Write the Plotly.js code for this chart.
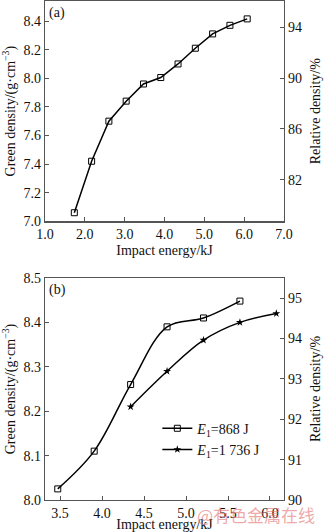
<!DOCTYPE html>
<html>
<head>
<meta charset="utf-8">
<script src="https://cdn.plot.ly/plotly-3.0.1.min.js"></script>
<style>html,body{margin:0;padding:0;background:#fff;}#chart{width:325px;height:532px;}</style>
</head>
<body>
<div id="chart"></div>
<script>
// Panel (a)
const energyA = [1.736, 2.170, 2.604, 3.038, 3.472, 3.906, 4.340, 4.774, 5.208, 5.642, 6.076];
const densityA = [7.06, 7.42, 7.70, 7.84, 7.96, 8.005, 8.10, 8.21, 8.31, 8.37, 8.415];
// Panel (b)
const energyB1 = [3.472, 3.906, 4.340, 4.774, 5.208, 5.642];
const densityB1 = [8.025, 8.11, 8.26, 8.39, 8.41, 8.448];
const energyB2 = [4.340, 4.774, 5.208, 5.642, 6.076];
const densityB2 = [8.21, 8.29, 8.36, 8.40, 8.42];
const seriesNames = ['<i>E</i><sub>1</sub>=868 J', '<i>E</i><sub>1</sub>=1 736 J'];
const ticksXA = [1, 2, 3, 4, 5, 6, 7];
const ticksYA = [7.0, 7.2, 7.4, 7.6, 7.8, 8.0, 8.2, 8.4];
const ticksRA = [82, 86, 90, 94];
const ticksXB = [3.5, 4.0, 4.5, 5.0, 5.5, 6.0];
const ticksYB = [8.0, 8.1, 8.2, 8.3, 8.4, 8.5];
const ticksRB = [90, 91, 92, 93, 94, 95];

const FONT = 'Liberation Serif, Times New Roman, serif';
const LC = '#555';
function ax(extra) {
  return Object.assign({
    showline: true, linecolor: LC, linewidth: 1.2,
    ticks: 'inside', ticklen: 4, tickcolor: LC, tickwidth: 1,
    showgrid: false, zeroline: false,
    tickfont: {family: FONT, size: 14, color: '#111'},
  }, extra);
}
const traces = [
  {x: energyA, y: densityA, xaxis: 'x', yaxis: 'y', mode: 'lines+markers', showlegend: false,
   line: {color: '#000', width: 1.5},
   marker: {symbol: 'square-open', size: 6, color: '#000', line: {width: 1}}},
  // empty traces so the right-hand (relative density) axes are drawn
  {x: [null], y: [null], xaxis: 'x', yaxis: 'y2', mode: 'markers', showlegend: false, hoverinfo: 'skip'},
  {x: energyB1, y: densityB1, xaxis: 'x2', yaxis: 'y3', mode: 'lines+markers', name: seriesNames[0],
   line: {color: '#000', width: 1.5, shape: 'spline', smoothing: 1},
   marker: {symbol: 'square-open', size: 6, color: '#000', line: {width: 1}}},
  {x: energyB2, y: densityB2, xaxis: 'x2', yaxis: 'y3', mode: 'lines+markers', name: seriesNames[1],
   line: {color: '#000', width: 1.5, shape: 'spline', smoothing: 1},
   marker: {symbol: 'star', size: 6, color: '#000'}},
  {x: [null], y: [null], xaxis: 'x2', yaxis: 'y4', mode: 'markers', showlegend: false, hoverinfo: 'skip'},
];
const layout = {
  width: 325, height: 532,
  margin: {l: 45, r: 41, t: 1, b: 32},
  paper_bgcolor: '#fff', plot_bgcolor: '#fff',
  font: {family: FONT, size: 14, color: '#111'},
  xaxis: ax({domain: [0, 1], range: [1, 7], tickvals: ticksXA, tickformat: '.1f', mirror: true, anchor: 'y',
    title: {text: 'Impact energy/kJ', font: {family: FONT, size: 14}, standoff: 3}}),
  yaxis: ax({domain: [0.5585, 1], range: [7.0, 8.54], tickvals: ticksYA, tickformat: '.1f', anchor: 'x',
    title: {text: 'Green density/(g·cm<sup>−3</sup>)', font: {family: FONT, size: 14}, standoff: 4}}),
  yaxis2: ax({overlaying: 'y', side: 'right', anchor: 'x', range: [78.74, 96.06], tickvals: ticksRA,
    title: {text: 'Relative density/%', font: {family: FONT, size: 14}, standoff: 9}}),
  xaxis2: ax({domain: [0, 1], range: [3.32, 6.167], tickvals: ticksXB, tickformat: '.1f', mirror: true, anchor: 'y3',
    title: {text: 'Impact energy/kJ', font: {family: FONT, size: 14}, standoff: 6}}),
  yaxis3: ax({domain: [0, 0.4449], range: [8.0, 8.5], tickvals: ticksYB, tickformat: '.1f', anchor: 'x2',
    title: {text: 'Green density/(g·cm<sup>−3</sup>)', font: {family: FONT, size: 14}, standoff: 4}}),
  yaxis4: ax({overlaying: 'y3', side: 'right', anchor: 'x2', range: [90, 95.5], tickvals: ticksRB,
    title: {text: 'Relative density/%', font: {family: FONT, size: 14}, standoff: 9}}),
  legend: {x: 0.47, y: 0.175, xanchor: 'left', yanchor: 'top', bgcolor: 'rgba(0,0,0,0)',
    font: {family: FONT, size: 14, color: '#111'}, tracegroupgap: 0, itemwidth: 30},
  annotations: [
    {text: '(a)', xref: 'paper', yref: 'paper', x: 0.01, y: 0.995, xanchor: 'left', yanchor: 'top', showarrow: false,
     font: {family: FONT, size: 14}},
    {text: '(b)', xref: 'paper', yref: 'paper', x: 0.01, y: 0.44, xanchor: 'left', yanchor: 'top', showarrow: false,
     font: {family: FONT, size: 14}},
    {text: '@有色金属在线', xref: 'paper', yref: 'paper', x: 1.14, y: -0.03, xanchor: 'right', yanchor: 'middle', showarrow: false,
     font: {family: 'Noto Sans CJK SC', size: 17, color: 'rgba(228,110,110,0.6)'}},
  ],
};
Plotly.newPlot('chart', traces, layout, {displayModeBar: false, staticPlot: true});
</script>
</body>
</html>
